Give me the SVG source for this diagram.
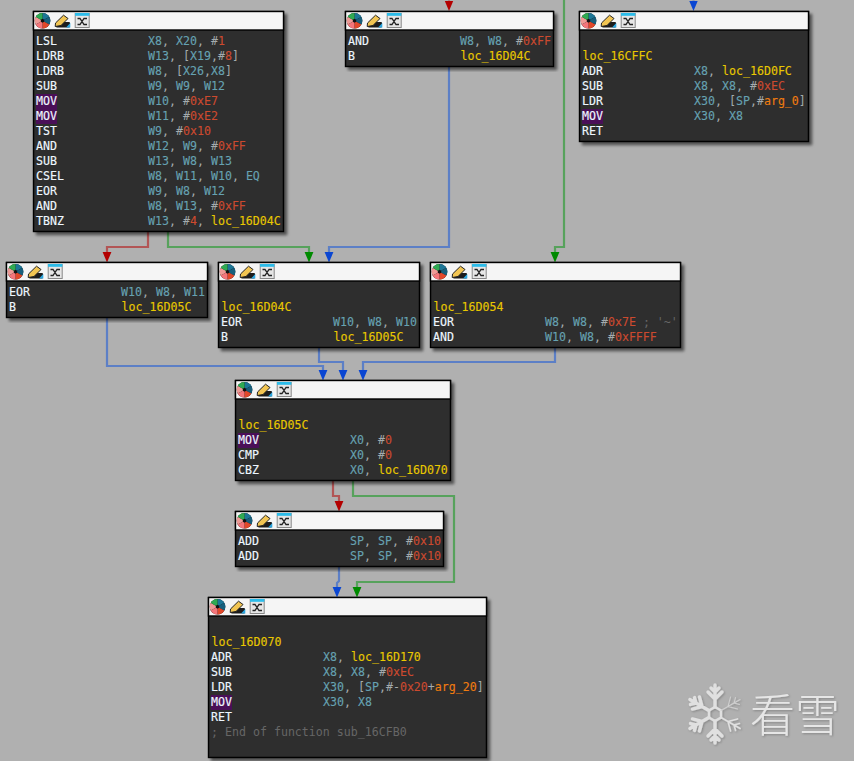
<svg xmlns="http://www.w3.org/2000/svg" width="854" height="761" viewBox="0 0 854 761">
<style>
text{font-family:"DejaVu Sans Mono","Liberation Mono",monospace;font-size:11.62px;white-space:pre;fill:#a4abad}
.box{fill:#2d2d2d;stroke:#000;stroke-width:1.4}
.head{fill:#f5f5f5;stroke:#000;stroke-width:1.4}
.hl{fill:#4a0f58}
.m{fill:#eef7ff;stroke:#eef7ff;stroke-width:.15}
.r{fill:#66a2b2;stroke:#66a2b2;stroke-width:.12}
.n{fill:#cc4a2e;stroke:#cc4a2e;stroke-width:.12}
.l{fill:#e9c800;stroke:#e9c800;stroke-width:.12}
.a{fill:#f07c10;stroke:#f07c10;stroke-width:.12}
.c{fill:#666}
.e{fill:none;stroke-width:2.2}
.eb{stroke:#5c7fc6;marker-end:url(#ab)}.er{stroke:#b25555;marker-end:url(#ar)}.eg{stroke:#57a25c;marker-end:url(#ag)}
.wm{font-family:"Noto Sans CJK SC",sans-serif;font-size:45px;font-weight:300;fill:#e6e6e6}
.sf{fill:none;stroke:#e0e0e0;stroke-width:3.4;stroke-linecap:round}
</style>
<defs>
<filter id="sh" x="-5%" y="-5%" width="112%" height="115%"><feDropShadow dx="3" dy="3" stdDeviation="1.6" flood-color="#000" flood-opacity="0.55"/></filter>
<filter id="wsh" x="-10%" y="-10%" width="120%" height="120%"><feDropShadow dx="1" dy="1" stdDeviation="1" flood-color="#000" flood-opacity="0.25"/></filter>
<marker id="ab" markerUnits="userSpaceOnUse" markerWidth="10" markerHeight="11" refX="5" refY="0" orient="0" viewBox="0 0 10 11"><path d="M.6 0H9.4L5 10.5Z" fill="#0a46d2"/></marker>
<marker id="ar" markerUnits="userSpaceOnUse" markerWidth="10" markerHeight="11" refX="5" refY="0" orient="0" viewBox="0 0 10 11"><path d="M.6 0H9.4L5 10.5Z" fill="#b30000"/></marker>
<marker id="ag" markerUnits="userSpaceOnUse" markerWidth="10" markerHeight="11" refX="5" refY="0" orient="0" viewBox="0 0 10 11"><path d="M.6 0H9.4L5 10.5Z" fill="#008a00"/></marker>
<g id="icons">
<circle cx="9" cy="8.7" r="7.8" fill="#111"/>
<path d="M9 .9A7.8 7.8 0 0 1 15.8 4.8L10.7 7.7 9 6.7Z" fill="#1c7696"/>
<path d="M15.8 4.8A7.8 7.8 0 0 1 15.8 12.6L10.7 9.7 10.7 7.7Z" fill="#175f7c"/>
<path d="M15.8 12.6A7.8 7.8 0 0 1 9 16.5L9 10.7 10.7 9.7Z" fill="#e2482a"/>
<path d="M9 16.5A7.8 7.8 0 0 1 2.2 12.6L7.3 9.7 9 10.7Z" fill="#f4757a"/>
<path d="M2.2 12.6A7.8 7.8 0 0 1 2.2 4.8L7.3 7.7 7.3 9.7Z" fill="#ee9a96"/>
<path d="M2.2 4.8A7.8 7.8 0 0 1 9 .9L9 6.7 7.3 7.7Z" fill="#2faa52"/>
<rect x="22.5" y="10" width="14" height="5.5" rx="1" fill="#1c1c1c"/>
<path d="M22 11 L30 3.2 L34.5 6.5 L27.5 13.5 L21.7 14.5Z" fill="#f2c552" stroke="#222" stroke-width="1"/>
<path d="M32.5 15.5 L36.8 15.5 L36.8 11Z" fill="#2aa6e0"/>
<rect x="41.7" y="1.5" width="14" height="14" fill="#e6e6e6" stroke="#888" stroke-width="1"/>
<rect x="41.5" y="1" width="14.4" height="2.8" fill="#2cbcea"/>
<path d="M44 6.5 H46.5 L50.5 12.5 H53.5 M44 12.5 H46.5 L50.5 6.5 H53.5" fill="none" stroke="#222" stroke-width="1.3"/>
</g>
<g id="spoke"><path d="M0 -7 V-29 M0 -15 L-7 -22 M0 -15 L7 -22 M0 -22 L-4 -26 M0 -22 L4 -26"/></g>
</defs>
<rect width="854" height="761" fill="#b0b0b0"/>

<g id="connectors">
<path class="e er" d="M449 0V.5"/>
<path class="e eg" d="M564 0V247H555V252"/>
<path class="e eb" d="M693.5 0V.5"/>
<path class="e er" d="M148 231V247H107V252"/>
<path class="e eg" d="M168 231V247H309V252"/>
<path class="e eb" d="M449 66V247H329V252"/>
<path class="e eb" d="M107 317V366H323V370"/>
<path class="e eb" d="M319 347V362H343V370"/>
<path class="e eb" d="M555 347V362H363V370"/>
<path class="e er" d="M333 480V496H339V501"/>
<path class="e eg" d="M353 480V496H454V582H357V587"/>
<path class="e eb" d="M339 566V581L337 583V587"/>
</g>

<g id="node-a">
<rect class="box" x="33.5" y="11.5" width="250" height="220" filter="url(#sh)"/>
<rect class="head" x="33.5" y="11.5" width="250" height="18.5"/>
<use href="#icons" x="33.5" y="12"/>
<rect class="hl" x="36" y="94" width="21" height="30"/>
<text y="45.4"><tspan x="36" class="m">LSL</tspan><tspan x="148" class="r">X8</tspan>, <tspan class="r">X20</tspan>, #<tspan class="n">1</tspan></text>
<text y="60.4"><tspan x="36" class="m">LDRB</tspan><tspan x="148" class="r">W13</tspan>, [<tspan class="r">X19</tspan>,#<tspan class="n">8</tspan>]</text>
<text y="75.4"><tspan x="36" class="m">LDRB</tspan><tspan x="148" class="r">W8</tspan>, [<tspan class="r">X26</tspan>,<tspan class="r">X8</tspan>]</text>
<text y="90.4"><tspan x="36" class="m">SUB</tspan><tspan x="148" class="r">W9</tspan>, <tspan class="r">W9</tspan>, <tspan class="r">W12</tspan></text>
<text y="105.4"><tspan x="36" class="m">MOV</tspan><tspan x="148" class="r">W10</tspan>, #<tspan class="n">0xE7</tspan></text>
<text y="120.4"><tspan x="36" class="m">MOV</tspan><tspan x="148" class="r">W11</tspan>, #<tspan class="n">0xE2</tspan></text>
<text y="135.4"><tspan x="36" class="m">TST</tspan><tspan x="148" class="r">W9</tspan>, #<tspan class="n">0x10</tspan></text>
<text y="150.4"><tspan x="36" class="m">AND</tspan><tspan x="148" class="r">W12</tspan>, <tspan class="r">W9</tspan>, #<tspan class="n">0xFF</tspan></text>
<text y="165.4"><tspan x="36" class="m">SUB</tspan><tspan x="148" class="r">W13</tspan>, <tspan class="r">W8</tspan>, <tspan class="r">W13</tspan></text>
<text y="180.4"><tspan x="36" class="m">CSEL</tspan><tspan x="148" class="r">W8</tspan>, <tspan class="r">W11</tspan>, <tspan class="r">W10</tspan>, <tspan class="r">EQ</tspan></text>
<text y="195.4"><tspan x="36" class="m">EOR</tspan><tspan x="148" class="r">W9</tspan>, <tspan class="r">W8</tspan>, <tspan class="r">W12</tspan></text>
<text y="210.4"><tspan x="36" class="m">AND</tspan><tspan x="148" class="r">W8</tspan>, <tspan class="r">W13</tspan>, #<tspan class="n">0xFF</tspan></text>
<text y="225.4"><tspan x="36" class="m">TBNZ</tspan><tspan x="148" class="r">W13</tspan>, #<tspan class="n">4</tspan>, <tspan class="l">loc_16D04C</tspan></text>
</g>

<g id="node-b">
<rect class="box" x="345.5" y="11.5" width="208" height="55" filter="url(#sh)"/>
<rect class="head" x="345.5" y="11.5" width="208" height="18.5"/>
<use href="#icons" x="345.5" y="12"/>
<text y="45.4"><tspan x="348" class="m">AND</tspan><tspan x="460" class="r">W8</tspan>, <tspan class="r">W8</tspan>, #<tspan class="n">0xFF</tspan></text>
<text y="60.4"><tspan x="348" class="m">B</tspan><tspan x="460.5" class="l">loc_16D04C</tspan></text>
</g>

<g id="node-c">
<rect class="box" x="579.5" y="11.5" width="229" height="130" filter="url(#sh)"/>
<rect class="head" x="579.5" y="11.5" width="229" height="18.5"/>
<use href="#icons" x="579.5" y="12"/>
<rect class="hl" x="582" y="109" width="21" height="15"/>
<text x="582.5" y="60.4" class="l">loc_16CFFC</text>
<text y="75.4"><tspan x="582" class="m">ADR</tspan><tspan x="694" class="r">X8</tspan>, <tspan class="l">loc_16D0FC</tspan></text>
<text y="90.4"><tspan x="582" class="m">SUB</tspan><tspan x="694" class="r">X8</tspan>, <tspan class="r">X8</tspan>, #<tspan class="n">0xEC</tspan></text>
<text y="105.4"><tspan x="582" class="m">LDR</tspan><tspan x="694" class="r">X30</tspan>, [<tspan class="r">SP</tspan>,#<tspan class="a">arg_0</tspan>]</text>
<text y="120.4"><tspan x="582" class="m">MOV</tspan><tspan x="694" class="r">X30</tspan>, <tspan class="r">X8</tspan></text>
<text x="582" y="135.4" class="m">RET</text>
</g>

<g id="node-d">
<rect class="box" x="6.5" y="262.5" width="201" height="55" filter="url(#sh)"/>
<rect class="head" x="6.5" y="262.5" width="201" height="18.5"/>
<use href="#icons" x="6.5" y="263"/>
<text y="296.4"><tspan x="9" class="m">EOR</tspan><tspan x="121" class="r">W10</tspan>, <tspan class="r">W8</tspan>, <tspan class="r">W11</tspan></text>
<text y="311.4"><tspan x="9" class="m">B</tspan><tspan x="121.5" class="l">loc_16D05C</tspan></text>
</g>

<g id="node-e">
<rect class="box" x="218.5" y="262.5" width="201" height="85" filter="url(#sh)"/>
<rect class="head" x="218.5" y="262.5" width="201" height="18.5"/>
<use href="#icons" x="218.5" y="263"/>
<text x="221.5" y="311.4" class="l">loc_16D04C</text>
<text y="326.4"><tspan x="221" class="m">EOR</tspan><tspan x="333" class="r">W10</tspan>, <tspan class="r">W8</tspan>, <tspan class="r">W10</tspan></text>
<text y="341.4"><tspan x="221" class="m">B</tspan><tspan x="333.5" class="l">loc_16D05C</tspan></text>
</g>

<g id="node-f">
<rect class="box" x="430.5" y="262.5" width="250" height="85" filter="url(#sh)"/>
<rect class="head" x="430.5" y="262.5" width="250" height="18.5"/>
<use href="#icons" x="430.5" y="263"/>
<text x="433.5" y="311.4" class="l">loc_16D054</text>
<text y="326.4"><tspan x="433" class="m">EOR</tspan><tspan x="545" class="r">W8</tspan>, <tspan class="r">W8</tspan>, #<tspan class="n">0x7E</tspan> <tspan class="c">; '~'</tspan></text>
<text y="341.4"><tspan x="433" class="m">AND</tspan><tspan x="545" class="r">W10</tspan>, <tspan class="r">W8</tspan>, #<tspan class="n">0xFFFF</tspan></text>
</g>

<g id="node-g">
<rect class="box" x="235.5" y="380.5" width="215" height="100" filter="url(#sh)"/>
<rect class="head" x="235.5" y="380.5" width="215" height="18.5"/>
<use href="#icons" x="235.5" y="381"/>
<rect class="hl" x="238" y="433" width="21" height="15"/>
<text x="238.5" y="429.4" class="l">loc_16D05C</text>
<text y="444.4"><tspan x="238" class="m">MOV</tspan><tspan x="350" class="r">X0</tspan>, #<tspan class="n">0</tspan></text>
<text y="459.4"><tspan x="238" class="m">CMP</tspan><tspan x="350" class="r">X0</tspan>, #<tspan class="n">0</tspan></text>
<text y="474.4"><tspan x="238" class="m">CBZ</tspan><tspan x="350" class="r">X0</tspan>, <tspan class="l">loc_16D070</tspan></text>
</g>

<g id="node-h">
<rect class="box" x="235.5" y="511.5" width="208" height="55" filter="url(#sh)"/>
<rect class="head" x="235.5" y="511.5" width="208" height="18.5"/>
<use href="#icons" x="235.5" y="512"/>
<text y="545.4"><tspan x="238" class="m">ADD</tspan><tspan x="350" class="r">SP</tspan>, <tspan class="r">SP</tspan>, #<tspan class="n">0x10</tspan></text>
<text y="560.4"><tspan x="238" class="m">ADD</tspan><tspan x="350" class="r">SP</tspan>, <tspan class="r">SP</tspan>, #<tspan class="n">0x10</tspan></text>
</g>

<g id="node-i">
<rect class="box" x="208.5" y="597.5" width="278" height="160" filter="url(#sh)"/>
<rect class="head" x="208.5" y="597.5" width="278" height="18.5"/>
<use href="#icons" x="208.5" y="598"/>
<rect class="hl" x="211" y="695" width="21" height="15"/>
<text x="211.5" y="646.4" class="l">loc_16D070</text>
<text y="661.4"><tspan x="211" class="m">ADR</tspan><tspan x="323" class="r">X8</tspan>, <tspan class="l">loc_16D170</tspan></text>
<text y="676.4"><tspan x="211" class="m">SUB</tspan><tspan x="323" class="r">X8</tspan>, <tspan class="r">X8</tspan>, #<tspan class="n">0xEC</tspan></text>
<text y="691.4"><tspan x="211" class="m">LDR</tspan><tspan x="323" class="r">X30</tspan>, [<tspan class="r">SP</tspan>,#-<tspan class="n">0x20</tspan>+<tspan class="a">arg_20</tspan>]</text>
<text y="706.4"><tspan x="211" class="m">MOV</tspan><tspan x="323" class="r">X30</tspan>, <tspan class="r">X8</tspan></text>
<text x="211" y="721.4" class="m">RET</text>
<text x="211" y="736.4" class="c">; End of function sub_16CFB0</text>
</g>

<g id="watermark" filter="url(#wsh)">
<g class="sf" transform="translate(715 714)">
<path d="M0 -7L6 -3.5V3.5L0 7L-6 3.5V-3.5Z" stroke-width="2.5"/>
<use href="#spoke"/>
<use href="#spoke" transform="rotate(60)" stroke-width="1" stroke="#d0d0d0"/>
<use href="#spoke" transform="rotate(120)" stroke-width="1.6"/>
<use href="#spoke" transform="rotate(180)"/>
<use href="#spoke" transform="rotate(240)"/>
<use href="#spoke" transform="rotate(300)"/>
</g>
<text class="wm" x="750" y="732">看雪</text>
</g>
</svg>
